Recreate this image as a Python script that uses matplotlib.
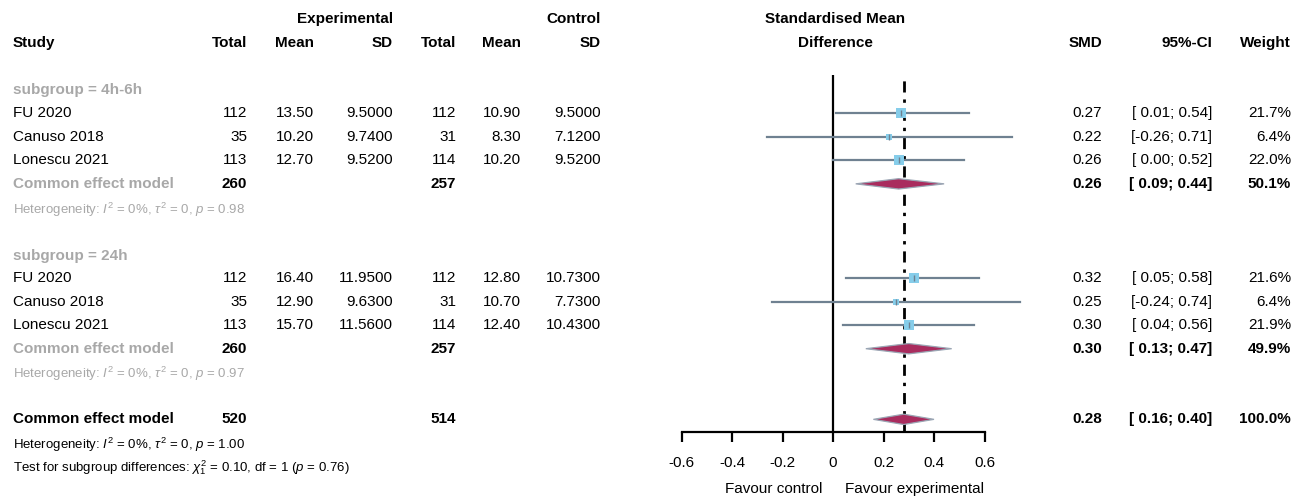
import matplotlib
matplotlib.use("Agg")
import matplotlib.pyplot as plt
from matplotlib import font_manager

# ---- fuente (estrecha si existe) ----
disponibles = {f.name for f in font_manager.fontManager.ttflist}
FUENTE = "Liberation Sans Narrow" if "Liberation Sans Narrow" in disponibles else "Liberation Sans"
plt.rcParams["font.family"] = [FUENTE, "DejaVu Sans"]
plt.rcParams["mathtext.fontset"] = "custom"
plt.rcParams["mathtext.rm"] = FUENTE
plt.rcParams["mathtext.it"] = FUENTE + ":italic"
plt.rcParams["mathtext.bf"] = FUENTE + ":bold"

# ---- datos ----
estudios = ["FU 2020", "Canuso 2018", "Lonescu 2021"]
subgrupos = ["4h-6h", "24h"]

n_exp = [[112, 35, 113], [112, 35, 113]]
media_exp = [[13.50, 10.20, 12.70], [16.40, 12.90, 15.70]]
sd_exp = [[9.5000, 9.7400, 9.5200], [11.9500, 9.6300, 11.5600]]
n_ctl = [[112, 31, 114], [112, 31, 114]]
media_ctl = [[10.90, 8.30, 10.20], [12.80, 10.70, 12.40]]
sd_ctl = [[9.5000, 7.1200, 9.5200], [10.7300, 7.7300, 10.4300]]

smd = [[0.27, 0.22, 0.26], [0.32, 0.25, 0.30]]
ci_low = [[0.01, -0.26, 0.00], [0.05, -0.24, 0.04]]
ci_high = [[0.54, 0.71, 0.52], [0.58, 0.74, 0.56]]
peso = [[21.7, 6.4, 22.0], [21.6, 6.4, 21.9]]

# modelo común por subgrupo
sub_n_exp = [260, 260]
sub_n_ctl = [257, 257]
sub_smd = [0.26, 0.30]
sub_low = [0.09, 0.13]
sub_high = [0.44, 0.47]
sub_peso = [50.1, 49.9]
sub_p_het = ["0.98", "0.97"]

# modelo común global
tot_n_exp, tot_n_ctl = 520, 514
tot_smd, tot_low, tot_high, tot_peso = 0.28, 0.16, 0.40, 100.0
ticks_x = [-0.6, -0.4, -0.2, 0, 0.2, 0.4, 0.6]
tick_labels = ["-0.6", "-0.4", "-0.2", "0", "0.2", "0.4", "0.6"]

# ---- estilos ----
GRIS = "#A8A8A8"
COL_CI = "#6F8191"
COL_CUADRO = "#86CDEA"
COL_DIAMANTE = "#A92C5E"
FS = 11
FS_PEQ = 9.5

# ---- layout: filas y columnas (px) ----
W, H = 1302, 500
Y0, PASO = 19, 23.55          # fila 0 en px, separación entre filas
def fila_y(px):
    return (px - Y0) / PASO

filas_sub = [[3, 4, 5, 6, 7, 8.1], [10.05, 11, 12, 13, 14, 15.05]]
FILA_TOT, FILA_TOT_HET, FILA_TEST = 17, 18.1, 19.05

X_STUDY = 13
X_TOT_E, X_MEAN_E, X_SD_E = 247, 314, 393
X_TOT_C, X_MEAN_C, X_SD_C = 456, 521, 601
X_SMD, X_CI, X_W = 1102, 1212, 1291

fig = plt.figure(figsize=(W / 100, H / 100), dpi=100)
ax = fig.add_axes([0, 0, 1, 1])
ax.set_xlim(0, W)
ax.set_ylim(fila_y(H), fila_y(0))
ax.axis("off")

def txt(x, y, s, ha="right", bold=False, color="black", size=FS):
    ax.text(x, y, s, ha=ha, va="center", fontsize=size,
            fontweight="bold" if bold else "normal", color=color)

# cabeceras
txt(X_SD_E, 0, "Experimental", bold=True)
txt(X_SD_C, 0, "Control", bold=True)
txt(X_STUDY, 1, "Study", ha="left", bold=True)
for x, s in [(X_TOT_E, "Total"), (X_MEAN_E, "Mean"), (X_SD_E, "SD"),
             (X_TOT_C, "Total"), (X_MEAN_C, "Mean"), (X_SD_C, "SD"),
             (X_SMD, "SMD"), (X_CI, "95%-CI"), (X_W, "Weight")]:
    txt(x, 1, s, bold=True)

def ci_str(lo, hi):
    a = "%.2f" % lo
    if lo >= 0:
        a = " " + a
    return "[" + a + "; " + "%.2f" % hi + "]"

# ---- eje del forest ----
ESC = 252.5                     # px por unidad de SMD
X_CERO = 833
y_top_px, y_axis_px = 75, 432
fx = fig.add_axes([(X_CERO - 0.6 * ESC) / W, 1 - y_axis_px / H,
                   1.2 * ESC / W, (y_axis_px - y_top_px) / H])
fx.set_xlim(-0.6, 0.6)
fx.set_ylim(fila_y(y_axis_px), fila_y(y_top_px))
fx.patch.set_alpha(0)
for lado in ["top", "right", "left"]:
    fx.spines[lado].set_visible(False)
fx.spines["bottom"].set_linewidth(1.6)
fx.set_yticks([])
fx.set_xticks(ticks_x)
fx.set_xticklabels(tick_labels, fontsize=FS)
fx.tick_params(axis="x", direction="out", length=7, width=1.6, pad=10)

fx.axvline(0, color="black", lw=1.6)
fx.axvline(tot_smd, color="black", lw=2, linestyle=(0, (4, 2.5, 1.2, 2.5)))

def diamante(y, c, lo, hi, h=0.22):
    xs = [lo, c, hi, c, lo]
    ys = [y, y - h, y, y + h, y]
    fx.fill(xs, ys, facecolor=COL_DIAMANTE, edgecolor="#9AA6B4", lw=0.9,
            clip_on=False, zorder=4)

for g in range(2):
    fs = filas_sub[g]
    txt(X_STUDY, fs[0], "subgroup = " + subgrupos[g], ha="left", bold=True, color=GRIS)
    for i in range(3):
        y = fs[i + 1]
        txt(X_STUDY, y, estudios[i], ha="left")
        txt(X_TOT_E, y, "%d" % n_exp[g][i])
        txt(X_MEAN_E, y, "%.2f" % media_exp[g][i])
        txt(X_SD_E, y, "%.4f" % sd_exp[g][i])
        txt(X_TOT_C, y, "%d" % n_ctl[g][i])
        txt(X_MEAN_C, y, "%.2f" % media_ctl[g][i])
        txt(X_SD_C, y, "%.4f" % sd_ctl[g][i])
        txt(X_SMD, y, "%.2f" % smd[g][i])
        txt(X_CI, y, ci_str(ci_low[g][i], ci_high[g][i]))
        txt(X_W, y, "%.1f%%" % peso[g][i])
        fx.plot([ci_low[g][i], ci_high[g][i]], [y, y], color=COL_CI, lw=1.6,
                clip_on=False, zorder=3)
        fx.scatter([smd[g][i]], [y], marker="s", s=58 * peso[g][i] / 21.7,
                   color=COL_CUADRO, zorder=4, clip_on=False, linewidths=0)
        fx.plot([smd[g][i]], [y], marker="|", ms=4, color=COL_CI, mew=1,
                zorder=5, clip_on=False)
    y = fs[4]
    txt(X_STUDY, y, "Common effect model", ha="left", bold=True, color=GRIS)
    txt(X_TOT_E, y, "%d" % sub_n_exp[g], bold=True)
    txt(X_TOT_C, y, "%d" % sub_n_ctl[g], bold=True)
    txt(X_SMD, y, "%.2f" % sub_smd[g], bold=True)
    txt(X_CI, y, ci_str(sub_low[g], sub_high[g]), bold=True)
    txt(X_W, y, "%.1f%%" % sub_peso[g], bold=True)
    diamante(y, sub_smd[g], sub_low[g], sub_high[g])
    txt(X_STUDY, fs[5], r"Heterogeneity: $\mathit{I}^{2}$ = 0%, $\tau^{2}$ = 0, $\mathit{p}$ = "
        + sub_p_het[g], ha="left", color=GRIS, size=FS_PEQ)

# global
txt(X_STUDY, FILA_TOT, "Common effect model", ha="left", bold=True)
txt(X_TOT_E, FILA_TOT, "%d" % tot_n_exp, bold=True)
txt(X_TOT_C, FILA_TOT, "%d" % tot_n_ctl, bold=True)
txt(X_SMD, FILA_TOT, "%.2f" % tot_smd, bold=True)
txt(X_CI, FILA_TOT, ci_str(tot_low, tot_high), bold=True)
txt(X_W, FILA_TOT, "%.1f%%" % tot_peso, bold=True)
diamante(FILA_TOT, tot_smd, tot_low, tot_high)
txt(X_STUDY, FILA_TOT_HET, r"Heterogeneity: $\mathit{I}^{2}$ = 0%, $\tau^{2}$ = 0, $\mathit{p}$ = 1.00",
    ha="left", size=FS_PEQ)
txt(X_STUDY, FILA_TEST, r"Test for subgroup differences: $\chi^{2}_{1}$ = 0.10, df = 1 ($\mathit{p}$ = 0.76)",
    ha="left", size=FS_PEQ)

# titulo del forest y etiquetas de dirección
cx = X_CERO + 2
txt(cx, 0, "Standardised Mean", ha="center", bold=True)
txt(cx, 1, "Difference", ha="center", bold=True)
y_fav = fila_y(489)
txt(X_CERO - 11, y_fav, "Favour control", ha="right")
txt(X_CERO + 12, y_fav, "Favour experimental", ha="left")

fig.savefig("out.png", dpi=100)
